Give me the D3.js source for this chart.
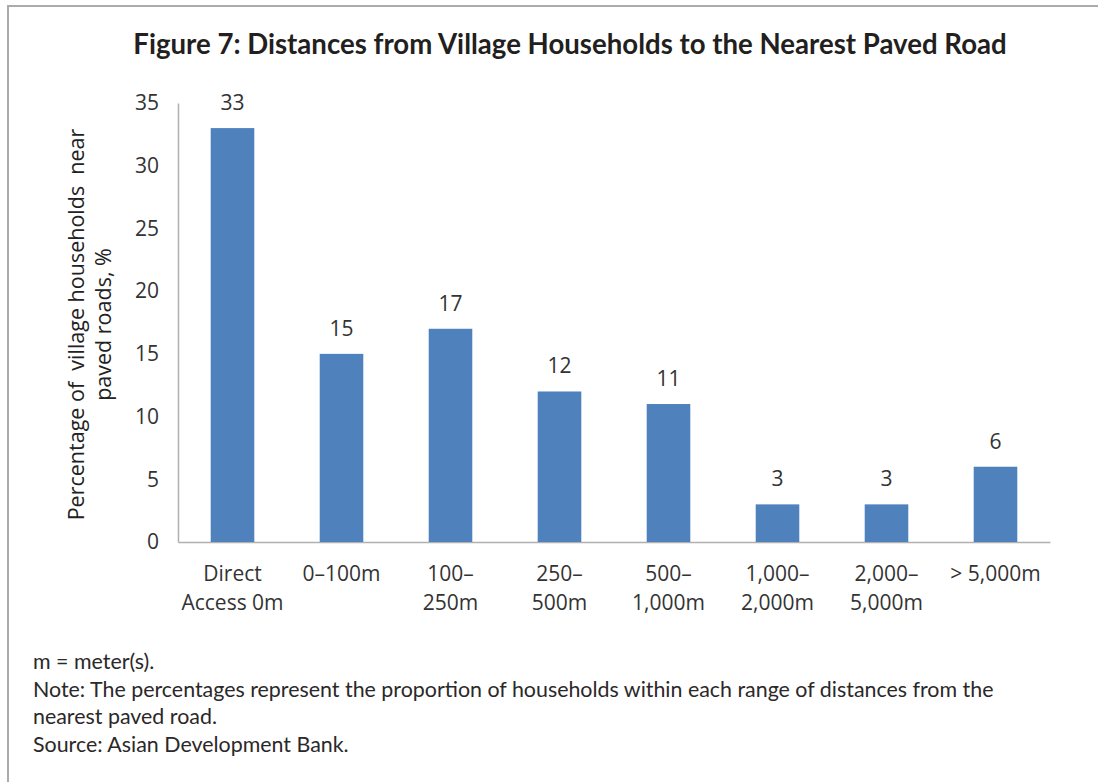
<!DOCTYPE html>
<html>
<head>
<meta charset="utf-8">
<script src="https://cdn.jsdelivr.net/npm/d3@7"></script>
<style>
	body { margin: 0; background: #fff; }
	svg { display: block; }
</style>
</head>
<body>
<div id="chart"></div>
<script>
////////////////////////////////////////////////////////////
//// Data //////////////////////////////////////////////////
////////////////////////////////////////////////////////////
const categories = [
	["Direct", "Access 0m"],
	["0–100m"],
	["100–", "250m"],
	["250–", "500m"],
	["500–", "1,000m"],
	["1,000–", "2,000m"],
	["2,000–", "5,000m"],
	["> 5,000m"]
];
const values = [33, 15, 17, 12, 11, 3, 3, 6];
const yTicks = [0, 5, 10, 15, 20, 25, 30, 35];
const notes = [
	"m = meter(s).",
	"Note: The percentages represent the proportion of households within each range of distances from the",
	"nearest paved road.",
	"Source: Asian Development Bank."
];

////////////////////////////////////////////////////////////
//// Setup /////////////////////////////////////////////////
////////////////////////////////////////////////////////////
const W = 1098, H = 782;
const margin = { left: 178, right: 48, top: 103, bottom: 240 };
const sans = "'Open Sans', 'Noto Sans', sans-serif";
const lato = "Lato, 'Open Sans', sans-serif";

const svg = d3.select("#chart")
	.append("svg")
	.attr("width", W)
	.attr("height", H);

const x = d3.scaleBand()
	.domain(d3.range(values.length))
	.range([margin.left, W - margin.right])
	.paddingInner(0.6)
	.paddingOuter(0.3);

const y = d3.scaleLinear()
	.domain([0, 35])
	.range([H - margin.bottom, margin.top]);

// frame (left + top only)
svg.append("path")
	.attr("d", `M8,${H} V6 H${W}`)
	.attr("fill", "none")
	.attr("stroke", "#ababab")
	.attr("stroke-width", 2);

// title
svg.append("text")
	.attr("x", 570)
	.attr("y", 54)
	.attr("text-anchor", "middle")
	.style("font-family", lato)
	.style("font-weight", 700)
	.style("font-size", "27.6px")
	.attr("fill", "#231f20")
	.text("Figure 7: Distances from Village Households to the Nearest Paved Road");

////////////////////////////////////////////////////////////
//// Axes //////////////////////////////////////////////////
////////////////////////////////////////////////////////////
const yAxis = svg.append("g")
	.attr("transform", `translate(${margin.left},0)`)
	.call(d3.axisLeft(y).tickValues(yTicks).tickSize(0).tickPadding(19));
yAxis.select(".domain").attr("stroke", "#b0b0b0").attr("stroke-width", 1.5);
yAxis.selectAll("text")
	.style("font-family", sans)
	.style("font-size", "21px")
	.attr("fill", "#333");

const xAxis = svg.append("g")
	.attr("transform", `translate(0,${y(0)})`)
	.call(d3.axisBottom(x).tickSize(0).tickFormat(""));
xAxis.select(".domain").attr("stroke", "#b0b0b0").attr("stroke-width", 1.5);

xAxis.selectAll(".tick text").remove();
xAxis.selectAll(".tick")
	.append("text")
	.attr("text-anchor", "middle")
	.style("font-family", sans)
	.style("font-size", "21px")
	.attr("fill", "#333")
	.selectAll("tspan")
	.data(i => categories[i])
	.join("tspan")
	.attr("x", 0)
	.attr("y", (d, j) => 39 + j * 29)
	.text(d => d);

// y label
const yLabel = svg.append("text")
	.attr("transform", `translate(84,${(y(0) + y(35)) / 2 + 2}) rotate(-90)`)
	.attr("text-anchor", "middle")
	.style("font-family", sans)
	.style("font-size", "21.5px")
	.style("white-space", "pre")
	.attr("fill", "#222");
yLabel.append("tspan").attr("x", 0).attr("y", 0).text("Percentage of  village households  near");
yLabel.append("tspan").attr("x", 0).attr("y", 27).text("paved roads, %");

////////////////////////////////////////////////////////////
//// Bars //////////////////////////////////////////////////
////////////////////////////////////////////////////////////
svg.append("g")
	.selectAll("rect")
	.data(values)
	.join("rect")
	.attr("x", (d, i) => x(i))
	.attr("width", x.bandwidth())
	.attr("y", d => y(d))
	.attr("height", d => y(0) - y(d))
	.attr("fill", "#4f81bd");

svg.append("g")
	.selectAll("text")
	.data(values)
	.join("text")
	.attr("x", (d, i) => x(i) + x.bandwidth() / 2)
	.attr("y", d => y(d) - 18)
	.attr("text-anchor", "middle")
	.style("font-family", sans)
	.style("font-size", "21px")
	.attr("fill", "#333")
	.text(d => d);

////////////////////////////////////////////////////////////
//// Notes /////////////////////////////////////////////////
////////////////////////////////////////////////////////////
svg.append("g")
	.selectAll("text")
	.data(notes)
	.join("text")
	.attr("x", 33)
	.attr("y", (d, i) => 669 + i * 27.7)
	.style("font-family", lato)
	.style("font-size", "21.4px")
	.attr("fill", "#2b2829")
	.text(d => d);
</script>
</body>
</html>
